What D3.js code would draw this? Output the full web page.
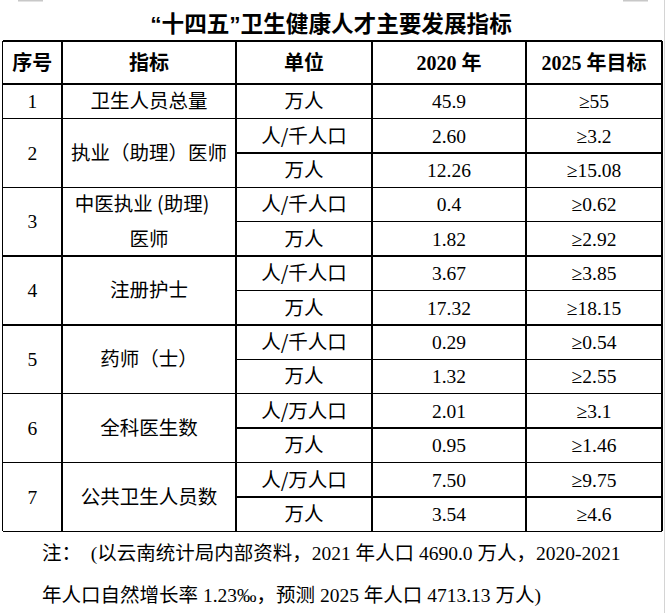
<!DOCTYPE html>
<html>
<head>
<meta charset="utf-8">
<title>“十四五”卫生健康人才主要发展指标</title>
<style>
  html, body { margin: 0; padding: 0; background: #fff; }
  svg { display: block; }
  .title { font: bold 22.6px "Liberation Sans", "Noto Sans CJK SC", sans-serif; text-anchor: middle; }
  .head text { font-family: "Liberation Serif", "Noto Sans CJK SC", serif; font-weight: bold; font-size: 20px; text-anchor: middle; }
  .cell text { font-family: "Liberation Serif", "Noto Sans CJK SC", serif; font-size: 19.5px; text-anchor: middle; }
  .cjk { font-family: "Noto Sans CJK SC", sans-serif !important; }
  .note { font-family: "Liberation Serif", "Noto Sans CJK SC", serif; font-size: 19.5px; }
  .grid line { stroke: #000; stroke-width: 1.4; shape-rendering: crispEdges; }
</style>
</head>
<body>
<svg width="669" height="613"></svg>
<script src="https://cdn.jsdelivr.net/npm/d3@7/dist/d3.min.js"></script>
<script>
var title = "“十四五”卫生健康人才主要发展指标";
var headers = ["序号", "指标", "单位", "2020 年", "2025 年目标"];
var seqs = ["1", "2", "3", "4", "5", "6", "7"];
var indicators = [
  ["卫生人员总量"],
  ["执业（助理）医师"],
  ["中医执业 (助理)", "医师"],
  ["注册护士"],
  ["药师（士）"],
  ["全科医生数"],
  ["公共卫生人员数"]
];
var units = [
  ["万人"],
  ["人/千人口", "万人"],
  ["人/千人口", "万人"],
  ["人/千人口", "万人"],
  ["人/千人口", "万人"],
  ["人/万人口", "万人"],
  ["人/万人口", "万人"]
];
var values2020 = [
  ["45.9"],
  ["2.60", "12.26"],
  ["0.4", "1.82"],
  ["3.67", "17.32"],
  ["0.29", "1.32"],
  ["2.01", "0.95"],
  ["7.50", "3.54"]
];
var targets2025 = [
  ["≥55"],
  ["≥3.2", "≥15.08"],
  ["≥0.62", "≥2.92"],
  ["≥3.85", "≥18.15"],
  ["≥0.54", "≥2.55"],
  ["≥3.1", "≥1.46"],
  ["≥9.75", "≥4.6"]
];
var notes = [
  "注：　(以云南统计局内部资料，2021 年人口 4690.0 万人，2020-2021",
  "年人口自然增长率 1.23‰，预测 2025 年人口 4713.13 万人)"
];

var svg = d3.select("svg");

// column edges and row layout
var colEdges = [2.5, 62, 236, 372, 526, 662];
var tableTop = 41, headBottom = 84;

// sub-row start index for each group
var starts = [], n = 0;
units.forEach(function(u) { starts.push(n); n += u.length; });
var y = d3.scaleLinear().domain([0, n]).range([headBottom, 531.2]);
var colMid = function(i) { return (colEdges[i] + colEdges[i + 1]) / 2; };

// page marks
svg.append("rect").attr("x", 18).attr("y", 0).attr("width", 25).attr("height", 1.5).attr("fill", "#c8c8c8");
svg.append("rect").attr("x", 623).attr("y", 0).attr("width", 25).attr("height", 1.5).attr("fill", "#c8c8c8");
svg.append("line").attr("x1", 664.5).attr("x2", 664.5).attr("y1", 0).attr("y2", 613)
  .attr("stroke", "#d4d4d4").attr("stroke-width", 1);

svg.append("text").attr("class", "title")
  .attr("x", 331).attr("y", 24).attr("dy", "0.36em")
  .text(title);

var grid = svg.append("g").attr("class", "grid");

// horizontal lines
grid.append("line").attr("x1", colEdges[0]).attr("x2", colEdges[5]).attr("y1", tableTop).attr("y2", tableTop);
for (var k = 0; k <= n; k++) {
  var isGroupEdge = k === n || starts.indexOf(k) >= 0;
  grid.append("line")
    .attr("x1", isGroupEdge ? colEdges[0] : colEdges[2])
    .attr("x2", colEdges[5])
    .attr("y1", y(k)).attr("y2", y(k));
}
// vertical lines
colEdges.forEach(function(cx) {
  grid.append("line").attr("x1", cx).attr("x2", cx).attr("y1", tableTop).attr("y2", y(n));
});

// header
var head = svg.append("g").attr("class", "head");
head.selectAll("text").data(headers).enter().append("text")
  .attr("x", function(d, i) { return colMid(i); })
  .attr("y", (tableTop + headBottom) / 2)
  .attr("dy", "0.36em")
  .attr("class", function(d, i) { return i < 3 ? "cjk" : null; })
  .text(function(d) { return d; });

var cell = svg.append("g").attr("class", "cell");

function groupMid(g) { return (y(starts[g]) + y(starts[g] + units[g].length)) / 2; }

// sequence numbers
cell.selectAll(".seq").data(seqs).enter().append("text")
  .attr("class", "seq")
  .attr("x", colMid(0))
  .attr("y", function(d, i) { return groupMid(i); })
  .attr("dy", "0.35em")
  .text(function(d) { return d; });

// indicators (one or two lines)
indicators.forEach(function(lines, g) {
  lines.forEach(function(t, j) {
    var cy = lines.length === 1 ? groupMid(g) : (y(starts[g] + j) + y(starts[g] + j + 1)) / 2;
    cell.append("text").attr("class", "cjk")
      .attr("x", colMid(1) - (lines.length > 1 && j === 0 ? 7 : 0))
      .attr("y", cy).attr("dy", "0.36em")
      .text(t);
  });
});

// per sub-row columns
function subRows(arr, col, cls) {
  arr.forEach(function(vals, g) {
    vals.forEach(function(t, j) {
      cell.append("text").attr("class", cls)
        .attr("x", colMid(col))
        .attr("y", (y(starts[g] + j) + y(starts[g] + j + 1)) / 2)
        .attr("dy", "0.36em")
        .text(t);
    });
  });
}
subRows(units, 2, "cjk");
subRows(values2020, 3, null);
subRows(targets2025, 4, null);

// notes
svg.selectAll(".note").data(notes).enter().append("text")
  .attr("class", "note")
  .attr("x", 42)
  .attr("y", function(d, i) { return 553 + i * 42; })
  .attr("dy", "0.36em")
  .text(function(d) { return d; });
</script>
</body>
</html>
